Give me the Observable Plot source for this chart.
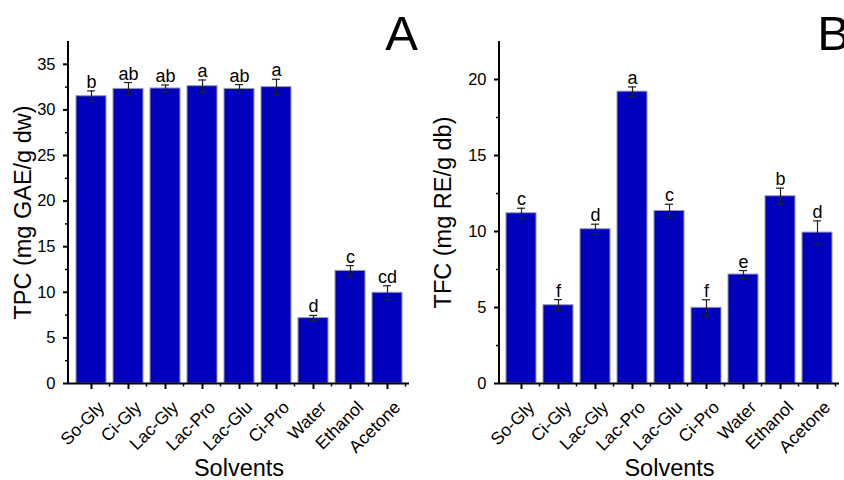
<!DOCTYPE html>
<html><head><meta charset="utf-8">
<script src="https://cdn.jsdelivr.net/npm/d3@7"></script>
<script src="https://cdn.jsdelivr.net/npm/@observablehq/plot@0.6"></script>
<style>
body{margin:0;background:#fff;}
#wrap{position:relative;width:844px;height:480px;overflow:hidden;font-family:"Liberation Sans",Arial,sans-serif;}
#wrap > svg{position:absolute;top:0;}
</style></head><body><div id="wrap"></div>
<script>
const solvents = ["So-Gly","Ci-Gly","Lac-Gly","Lac-Pro","Lac-Glu","Ci-Pro","Water","Ethanol","Acetone"];
const tpcMean = [31.5, 32.3, 32.35, 32.6, 32.3, 32.5, 7.17, 12.35, 9.95];
const tpcErr = [0.58, 0.7, 0.38, 0.68, 0.47, 0.86, 0.29, 0.58, 0.77];
const tpcLetters = ["b","ab","ab","a","ab","a","d","c","cd"];
const tfcMean = [11.2, 5.15, 10.15, 19.2, 11.35, 4.98, 7.17, 12.32, 9.93];
const tfcErr = [0.33, 0.37, 0.33, 0.31, 0.44, 0.53, 0.26, 0.53, 0.77];
const tfcLetters = ["c","f","d","a","c","f","e","b","d"];
const tpcTicks = [0, 5, 10, 15, 20, 25, 30, 35];
const tfcTicks = [0, 5, 10, 15, 20];

const FONT = "Liberation Sans, Arial, sans-serif";
const W = 422, H = 480, MT = 41, MB = 97;

function panel({means, errs, letters, ticks, yMax, ylabel, tag, marginLeft, marginRight, labelOffset, tagDx, left}) {
  const data = solvents.map((s, i) => ({s, v: means[i], e: errs[i], l: letters[i]}));
  const minor = ticks.map(t => t + 2.5).filter(t => t < yMax);
  const chart = Plot.plot({
    width: W, height: H,
    marginLeft, marginRight, marginTop: MT, marginBottom: MB,
    style: {fontFamily: FONT, overflow: "visible", background: "transparent"},
    x: {domain: solvents, paddingInner: 0.2, paddingOuter: 0.1, label: null},
    y: {domain: [0, yMax], label: null},
    marks: [
      Plot.barY(data, {x: "s", y: "v", fill: "#0000BD", stroke: "#9a9ab0", strokeWidth: 1}),
      Plot.ruleX(data, {x: "s", y1: d => d.v - d.e, y2: d => d.v + d.e, stroke: "#222", strokeWidth: 1.2}),
      Plot.tickY(data, {x: "s", y: d => d.v + d.e, insetLeft: 11, insetRight: 11, stroke: "#222", strokeWidth: 1.2}),
      Plot.tickY(data, {x: "s", y: d => d.v - d.e, insetLeft: 11, insetRight: 11, stroke: "#222", strokeWidth: 1.2}),
      Plot.text(data, {x: "s", y: d => d.v + d.e, text: "l", dy: -3, lineAnchor: "bottom", fontSize: 18, fill: "#000"}),
      Plot.axisY(ticks, {tickSize: 5, tickPadding: 8, fontSize: 16.5, tickFormat: d => d, label: null, strokeWidth: 2, stroke: "#000", fill: "#000"}),
      Plot.axisY(minor, {tickSize: 3, tickFormat: () => "", label: null, strokeWidth: 1.5, stroke: "#000"}),
      Plot.axisX({tickSize: 6, tickFormat: () => "", label: null, strokeWidth: 2, stroke: "#000"}),
      Plot.text(solvents, {x: d => d, frameAnchor: "bottom", rotate: -45, textAnchor: "end", lineAnchor: "middle", dx: 10, dy: 21, fontSize: 17.5, fill: "#000"}),
      Plot.ruleY([0], {stroke: "#000", strokeWidth: 2}),
      Plot.text([ylabel], {frameAnchor: "left", textAnchor: "middle", lineAnchor: "middle", rotate: -90, dx: -labelOffset, fontSize: 23.5, fill: "#000"}),
      Plot.text(["Solvents"], {frameAnchor: "bottom", lineAnchor: "bottom", dy: 92, fontSize: 23.5, fill: "#000"}),
      Plot.text([tag], {frameAnchor: "top-right", textAnchor: "middle", lineAnchor: "top", dx: tagDx, dy: -26, fontSize: 49, fill: "#000"})
    ]
  });
  // axis line on the left and minor x ticks at band boundaries, from the x scale
  const sx = chart.scale("x");
  const svg = d3.select(chart);
  const y0 = H - MB;
  const g = svg.append("g").attr("stroke", "#000").attr("fill", "none");
  g.append("line").attr("x1", marginLeft).attr("x2", marginLeft).attr("y1", y0 + 1).attr("y2", MT).attr("stroke-width", 2);
  solvents.forEach((s) => {
    const b = sx.apply(s) + sx.bandwidth + (sx.step - sx.bandwidth) / 2;
    g.append("line").attr("x1", b).attr("x2", b).attr("y1", y0).attr("y2", y0 + 3.5).attr("stroke-width", 1.5);
  });
  chart.style.left = left + "px";
  document.getElementById("wrap").appendChild(chart);
}

panel({means: tpcMean, errs: tpcErr, letters: tpcLetters, ticks: tpcTicks, yMax: 37.5,
  ylabel: "TPC (mg GAE/g dw)", tag: "A", marginLeft: 68, marginRight: 13, labelOffset: 45, tagDx: -8, left: 0});
panel({means: tfcMean, errs: tfcErr, letters: tfcLetters, ticks: tfcTicks, yMax: 22.5,
  ylabel: "TFC (mg RE/g db)", tag: "B", marginLeft: 77, marginRight: 5, labelOffset: 56, tagDx: -6, left: 422});
</script></body></html>
